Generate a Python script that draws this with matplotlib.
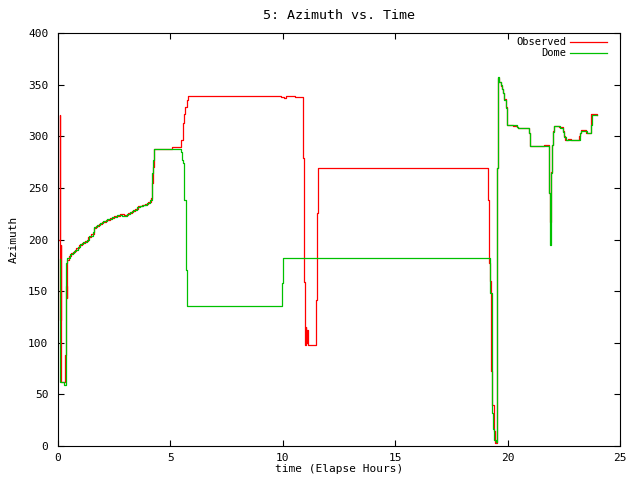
import numpy as np
import matplotlib.pyplot as plt

# Observed azimuth (time in hours, azimuth in degrees)
obs_t = [0.03, 0.10, 0.11, 0.13, 0.15, 0.33, 0.36, 0.39, 0.41, 0.47, 0.58, 0.70,
         0.80, 0.92, 1.05, 1.20, 1.35, 1.48, 1.60, 1.70, 1.82, 1.97, 2.12, 2.30,
         2.50, 2.75, 2.95, 3.12, 3.28, 3.42, 3.58, 3.72, 3.88, 4.02, 4.12, 4.18,
         4.22, 4.25, 5.06, 5.46, 5.55, 5.60, 5.66, 5.72, 5.80, 9.90, 10.05, 10.15,
         10.55, 10.91, 10.94, 10.99, 11.03, 11.05, 11.08, 11.10, 11.48, 11.53, 11.58,
         19.14, 19.17, 19.20, 19.24, 19.26, 19.28, 19.31, 19.38, 19.42, 19.46, 19.51,
         19.54, 19.58, 19.63, 19.69, 19.74, 19.78, 19.85, 19.92, 19.96, 19.99, 20.23,
         20.40, 20.48, 20.95, 21.00, 21.60, 21.86, 21.88, 21.93, 21.96, 22.02, 22.07,
         22.30, 22.46, 22.52, 22.57, 22.70, 22.80, 23.18, 23.21, 23.26, 23.50, 23.69,
         23.73, 23.99]
obs_az = [200, 321, 122, 195, 62, 88, 155, 143, 180, 184, 187, 189,
          192, 195, 197, 199, 202, 205, 211, 213, 215, 217, 219, 221,
          223, 225, 224, 226, 228, 230, 232, 233, 234, 236, 240, 255,
          270, 288, 289.3, 296, 313, 322, 328, 335, 338.5, 338, 337, 338.5,
          338, 278.6, 159, 98, 115, 100, 112, 98, 141, 225.5, 269,
          238, 177, 160, 148, 119, 73, 40, 15, 6, 3, 91,
          269, 356, 353, 349, 346, 342, 336, 328, 317, 311, 310,
          309, 308, 303, 291, 291.5, 245, 217, 265, 292, 305, 310,
          308.5, 305, 300, 296, 297.7, 296, 300, 303, 306, 303.5, 311,
          321.6, 321]

# Dome azimuth
dome_t = [0.08, 0.10, 0.28, 0.34, 0.36, 0.41, 0.53, 0.65, 0.76, 0.87, 0.98, 1.13,
          1.28, 1.40, 1.55, 1.62, 1.75, 1.87, 2.02, 2.17, 2.39, 2.61, 2.85, 3.05,
          3.20, 3.35, 3.50, 3.65, 3.80, 3.95, 4.09, 4.17, 4.20, 4.24, 4.27, 5.46,
          5.53, 5.58, 5.62, 5.69, 5.74, 9.95, 10.00, 19.22, 19.29, 19.36, 19.41,
          19.48, 19.51, 19.54, 19.59, 19.63, 19.69, 19.74, 19.78, 19.85, 19.92, 19.96,
          19.99, 20.40, 20.48, 20.97, 21.01, 21.86, 21.89, 21.93, 21.95, 21.97, 22.03,
          22.08, 22.33, 22.48, 22.53, 22.58, 23.20, 23.22, 23.27, 23.52, 23.70, 23.74,
          23.99]
dome_az = [181, 62, 59, 90, 177, 182, 186, 188, 190, 193, 196, 198,
           200, 203, 207, 212, 214, 216, 218, 220, 222, 224, 223, 225,
           227, 229, 231, 232, 233, 235, 238, 251, 264, 277, 288, 285,
           277, 274, 238, 170, 135.6, 158, 181.8, 148, 32, 16, 6,
           4, 91, 269, 357.7, 352.8, 349.6, 345.5, 341.6, 335, 327, 316.4,
           310.9, 309.3, 307.7, 302.8, 290.5, 245, 194.7, 217, 264, 291.5, 304.5,
           310, 307.7, 304.5, 299.6, 296.4, 299.6, 302.8, 305.4, 302.8, 310.9, 320.6,
           320.6]

plt.rcParams['font.family'] = 'DejaVu Sans Mono'
plt.rcParams['font.size'] = 8

fig = plt.figure(figsize=(6.4, 4.8), dpi=100)
ax = fig.add_axes([58/640, 34/480, 562/640, 413/480])

ax.plot(obs_t, obs_az, color='#ff0000', lw=0.9, drawstyle='steps-post')
ax.plot(dome_t, dome_az, color='#00c000', lw=0.9, drawstyle='steps-post')

ax.set_xlim(0, 25)
ax.set_ylim(0, 400)
ax.set_xticks(np.arange(0, 26, 5))
ax.set_yticks(np.arange(0, 401, 50))
ax.tick_params(direction='in', length=4.5, width=0.8, top=True, right=True)
ax.tick_params(axis='x', pad=5)
ax.tick_params(axis='y', pad=7)
for s in ax.spines.values():
    s.set_linewidth(0.8)

ax.set_title('5: Azimuth vs. Time', pad=10)
ax.set_xlabel('time (Elapse Hours)', labelpad=1)
ax.set_ylabel('Azimuth', labelpad=7)

# gnuplot style key, text right aligned next to the sample line
ax.text(0.904, 0.977, 'Observed', transform=ax.transAxes, ha='right', va='center',
        fontsize=7.5)
ax.plot([0.911, 0.977], [0.977, 0.977], transform=ax.transAxes, color='#ff0000', lw=0.9)
ax.text(0.904, 0.951, 'Dome', transform=ax.transAxes, ha='right', va='center',
        fontsize=7.5)
ax.plot([0.911, 0.977], [0.951, 0.951], transform=ax.transAxes, color='#00c000', lw=0.9)

plt.savefig('out.png', dpi=100)
